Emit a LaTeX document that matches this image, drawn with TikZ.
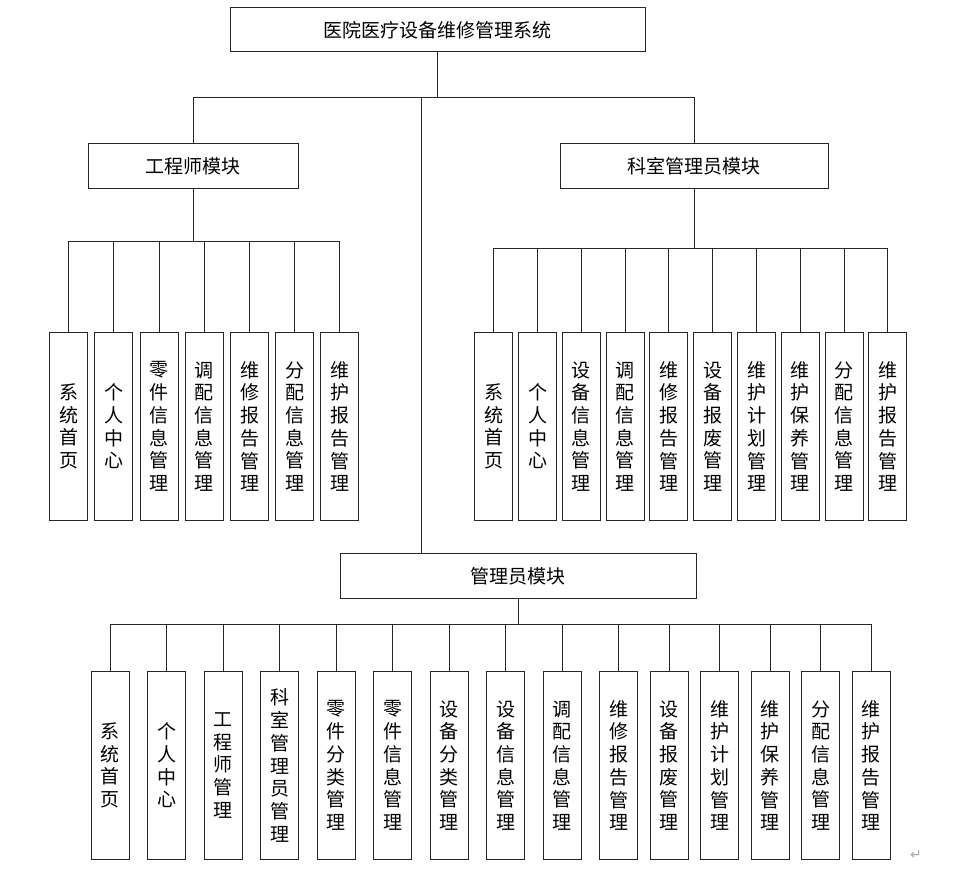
\documentclass[tikz,border=0pt]{standalone}
\usepackage{fontspec}
\newfontfamily\cjk{Noto Sans CJK SC}
\newfontfamily\symfont{DejaVu Sans}

\begin{document}
\begin{tikzpicture}[x=1pt, y=-1pt, line width=1pt,
    box/.style={draw=black!85, fill=white, inner sep=0pt, font=\cjk\fontsize{19}{22.7}\selectfont},
    module/.style={box, minimum height=45pt},
    leaf/.style={box, minimum width=38pt, minimum height=188pt, align=center, anchor=north},
    wire/.style={draw=black!85}]
    \useasboundingbox (0,0) rectangle (960,869);
    % top level
    \node[box, minimum width=415pt, minimum height=44pt] (root) at (437.5,30) {医院医疗设备维修管理系统};
    \node[module, minimum width=210pt] (eng) at (193,166) {工程师模块};
    \node[module, minimum width=268pt] (dept) at (694,166) {科室管理员模块};
    \node[module, minimum width=356pt] (mgr) at (518,576) {管理员模块};
    \coordinate (midtap) at (421,98);
    \draw[wire] (root.south) -- (root.south |- midtap);
    \draw[wire] (eng.north) -- (eng.north |- midtap) -| (dept.north);
    \draw[wire] (midtap) -- (midtap |- mgr.north);
    % engineer leaves
    \foreach \t [count=\i] in {系\\统\\首\\页, 个\\人\\中\\心, 零\\件\\信\\息\\管\\理,
        调\\配\\信\\息\\管\\理, 维\\修\\报\\告\\管\\理, 分\\配\\信\\息\\管\\理, 维\\护\\报\\告\\管\\理} {
        \node[leaf] (eng\i) at ({68.7+45.2*(\i-1)},332) {\t};
        \draw[wire] (eng\i.north) -- (eng\i.north |- 0,241);
    }
    \draw[wire] (eng1.north |- 0,241) -- (eng7.north |- 0,241);
    \draw[wire] (eng.south) -- (eng.south |- 0,241);
    % department leaves
    \foreach \t [count=\i] in {系\\统\\首\\页, 个\\人\\中\\心, 设\\备\\信\\息\\管\\理,
        调\\配\\信\\息\\管\\理, 维\\修\\报\\告\\管\\理, 设\\备\\报\\废\\管\\理, 维\\护\\计\\划\\管\\理,
        维\\护\\保\\养\\管\\理, 分\\配\\信\\息\\管\\理, 维\\护\\报\\告\\管\\理} {
        \node[leaf] (dept\i) at ({493.7+43.8*(\i-1)},332) {\t};
        \draw[wire] (dept\i.north) -- (dept\i.north |- 0,248);
    }
    \draw[wire] (dept1.north |- 0,248) -- (dept10.north |- 0,248);
    \draw[wire] (dept.south) -- (dept.south |- 0,248);
    % manager leaves
    \foreach \x/\t [count=\i] in {110/系\\统\\首\\页, 166.7/个\\人\\中\\心, 223/工\\程\\师\\管\\理,
        279.7/科\\室\\管\\理\\员\\管\\理, 336/零\\件\\分\\类\\管\\理, 392.7/零\\件\\信\\息\\管\\理,
        449.3/设\\备\\分\\类\\管\\理, 505.7/设\\备\\信\\息\\管\\理, 562/调\\配\\信\\息\\管\\理,
        618.7/维\\修\\报\\告\\管\\理, 669.3/设\\备\\报\\废\\管\\理, 719.7/维\\护\\计\\划\\管\\理,
        770/维\\护\\保\\养\\管\\理, 820.7/分\\配\\信\\息\\管\\理, 871/维\\护\\报\\告\\管\\理} {
        \node[leaf] (mgr\i) at (\x,671) {\t};
        \draw[wire] (mgr\i.north) -- (mgr\i.north |- 0,624);
    }
    \draw[wire] (mgr1.north |- 0,624) -- (mgr15.north |- 0,624);
    \draw[wire] (mgr.south) -- (mgr.south |- 0,624);
    % paragraph mark
    \node[font=\symfont\fontsize{14}{14}\selectfont, text=black!35] (pmark) at (916,855) {↵};
\end{tikzpicture}
\end{document}
